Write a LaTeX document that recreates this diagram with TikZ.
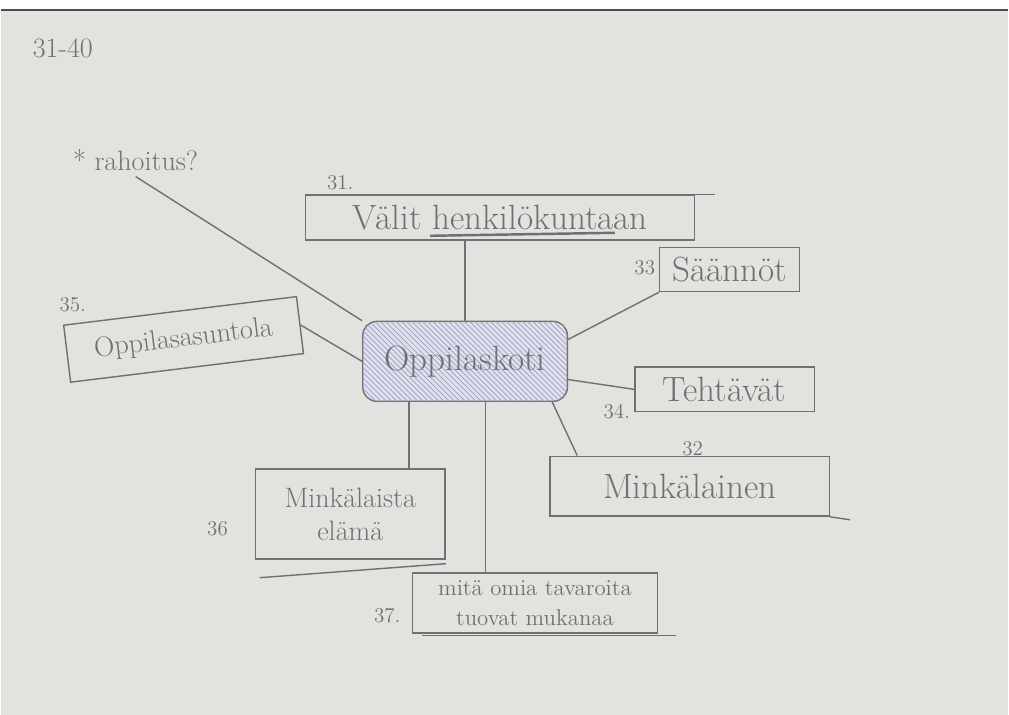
\documentclass[tikz,border=0pt]{standalone}
\usepackage{tikz}
\usetikzlibrary{calc}
\usetikzlibrary{patterns}
\usepackage{xcolor}
\definecolor{paper}{RGB}{226,226,222}
\definecolor{pencil}{RGB}{112,112,116}
\definecolor{hatch}{RGB}{112,118,168}

\begin{document}
\begin{tikzpicture}[x=0.02cm, y=-0.02cm,
  every node/.style={text=pencil},
  idea/.style={draw=pencil, thick, inner sep=3pt, align=center},
  big/.style={font=\fontsize{20}{22}\selectfont},
  mid/.style={font=\fontsize{16}{19}\selectfont},
  small/.style={font=\fontsize{13}{17}\selectfont},
  num/.style={font=\fontsize{12}{14}\selectfont},
  link/.style={draw=pencil, thick}]
  \fill[paper] (0,0) rectangle (1009,716);
  \fill[white] (0,0) rectangle (1009,9);
  \draw[black!70, line width=1pt] (0,10) -- (1009,10);
  \node[mid] (sivut) at (62,48) {31-40};
  \node[mid] (rah) at (135,160) {* rahoitus?};
  \node[idea, big, rounded corners=8pt, fill=hatch!22,
    postaction={pattern=north west lines, pattern color=hatch!70},
    minimum width=4.1cm, minimum height=1.6cm] (koti) at (465,362) {Oppilaskoti};
  \node[idea, big, minimum width=7.8cm, minimum height=0.9cm] (b31) at (500,218) {Välit henkilökuntaan};
  \node[idea, big, minimum width=2.8cm, minimum height=0.88cm] (b33) at (730,270) {Säännöt};
  \node[idea, mid, rotate=7, minimum width=4.7cm, minimum height=1.15cm] (b35) at (183,340) {Oppilasasuntola};
  \node[idea, big, minimum width=3.6cm, minimum height=0.9cm] (b34) at (725,390) {Tehtävät};
  \node[idea, big, minimum width=5.6cm, minimum height=1.2cm] (b32) at (690,487) {Minkälainen};
  \node[idea, mid, minimum width=3.8cm, minimum height=1.8cm] (b36) at (350,515) {Minkälaista\\elämä};
  \node[idea, small, minimum width=4.9cm, minimum height=1.2cm] (b37) at (535,604) {mitä omia tavaroita\\tuovat mukanaa};
  \node[num] (n31) at (340,183) {31.};
  \node[num] (n33) at (645,268) {33};
  \node[num] (n35) at (72,305) {35.};
  \node[num] (n34) at (617,412) {34.};
  \node[num] (n32) at (693,450) {32};
  \node[num] (n36) at (217,530) {36};
  \node[num] (n37) at (387,617) {37.};
  \draw[link] (rah.south) -- (koti.north west);
  \draw[link] (koti.north) -- (koti.north |- b31.south);
  \draw[link] (koti.12) -- (b33.south west);
  \draw[link] (koti.west) -- (b35.east);
  \draw[link] (koti.-10) -- (b34.west);
  \draw[link] (koti.335) -- ($(b32.north west)+(28,0)$);
  \draw[link] (koti.216) -- (koti.216 |- b36.north);
  \draw[link] (koti.297) -- (koti.297 |- b37.north);
  \draw[link] (b31.north east) -- ++(20,0);
  \draw[link, line width=1.4pt] ($(b31.south)+(-70,-5)$) -- ($(b31.south)+(115,-8)$);
  \draw[link] (b32.south east) -- ++(20,3);
  \draw[link] ($(b36.south west)+(5,18)$) -- ($(b36.south east)+(0,4)$);
  \draw[link] ($(b37.south west)+(10,2)$) -- ($(b37.south east)+(18,2)$);
\end{tikzpicture}
\end{document}
